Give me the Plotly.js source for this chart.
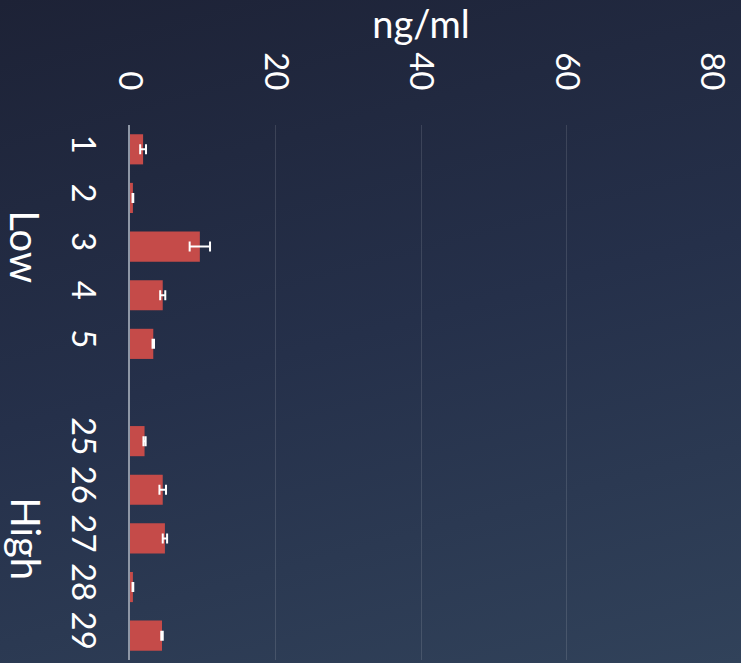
<!DOCTYPE html>
<html>
<head>
<meta charset="utf-8">
<script src="https://cdn.plot.ly/plotly-3.0.1.min.js"></script>
<style>
  html, body { margin: 0; padding: 0; }
  body {
    width: 741px; height: 663px; overflow: hidden;
    background: linear-gradient(165deg, #1d2236 0%, #25304a 50%, #31425a 100%);
  }
  #chart { width: 741px; height: 663px; }
</style>
</head>
<body>
<div id="chart"></div>
<script>
// Samples, in display order; the blank entry separates the two groups
const samples = ['1', '2', '3', '4', '5', ' ', '25', '26', '27', '28', '29'];
// Concentration (ng/ml) per sample
const concentration = [1.8, 0.4, 9.6, 4.5, 3.2, null, 2.0, 4.5, 4.8, 0.4, 4.4];
// Error (± ng/ml) per sample
const errorValues = [0.4, 0.05, 1.4, 0.35, 0.1, null, 0.15, 0.45, 0.3, 0.05, 0.1];
// Group labels and the sample each is centred on
const groupNames = ['Low', 'High'];
const groupCenters = ['3', '27'];
const valueTicks = [0, 20, 40, 60, 80];

const fontFamily = 'Lato, "Open Sans", sans-serif';

const trace = {
  type: 'bar',
  orientation: 'h',
  y: samples,
  x: concentration,
  marker: { color: '#c54b49' },
  error_x: {
    type: 'data',
    array: errorValues,
    visible: true,
    color: '#ffffff',
    thickness: 2,
    width: 5
  },
  hoverinfo: 'x+y'
};

const layout = {
  width: 741,
  height: 663,
  paper_bgcolor: 'rgba(0,0,0,0)',
  plot_bgcolor: 'rgba(0,0,0,0)',
  margin: { l: 130, r: 29, t: 125, b: 3 },
  bargap: 0.38,
  showlegend: false,
  font: { family: fontFamily, color: '#ffffff' },
  xaxis: {
    side: 'top',
    range: [0, 80],
    tickvals: valueTicks,
    ticktext: valueTicks.map(String),
    tickangle: 90,
    tickfont: { size: 33, color: '#ffffff', family: fontFamily },
    ticks: 'outside',
    ticklen: 22,
    tickcolor: 'rgba(0,0,0,0)',
    showgrid: true,
    gridcolor: 'rgba(255,255,255,0.12)',
    gridwidth: 1,
    zeroline: false,
    showline: false,
    automargin: false,
    title: {
      text: 'ng/ml',
      font: { size: 38, color: '#ffffff', family: fontFamily },
      standoff: 4
    }
  },
  yaxis: {
    type: 'category',
    categoryorder: 'array',
    categoryarray: samples,
    range: [samples.length - 0.5, -0.5],
    tickmode: 'array',
    tickvals: samples,
    ticktext: samples,
    tickangle: 90,
    tickfont: { size: 33, color: '#ffffff', family: fontFamily },
    ticks: 'outside',
    ticklen: 16,
    tickcolor: 'rgba(0,0,0,0)',
    showgrid: false,
    showline: true,
    linecolor: '#8e97a6',
    linewidth: 2,
    zeroline: false,
    automargin: false
  },
  annotations: groupNames.map((name, i) => ({
    text: name,
    xref: 'paper',
    yref: 'y',
    x: -0.18,
    y: samples.indexOf(groupCenters[i]),
    xanchor: 'center',
    yanchor: 'middle',
    textangle: 90,
    showarrow: false,
    font: { size: 40, color: '#ffffff', family: fontFamily }
  }))
};

Plotly.newPlot('chart', [trace], layout, { displayModeBar: false, staticPlot: true });
</script>
</body>
</html>
